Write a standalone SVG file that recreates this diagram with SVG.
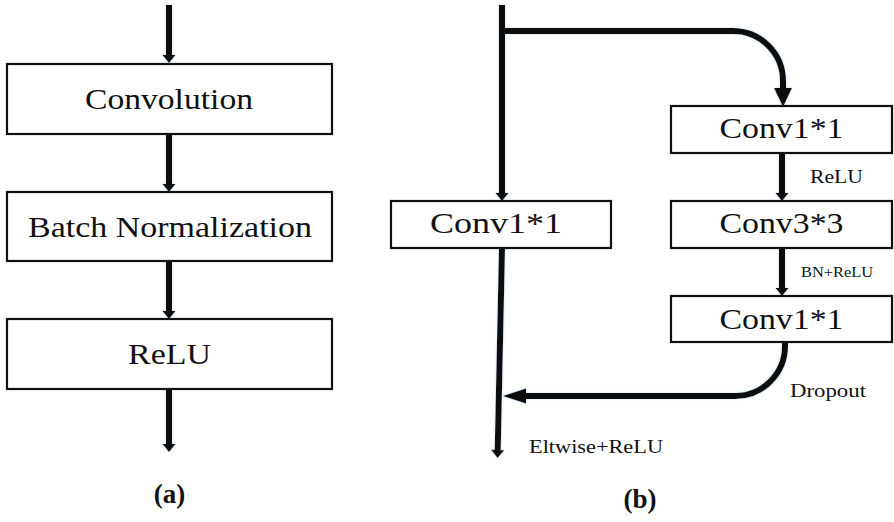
<svg xmlns="http://www.w3.org/2000/svg" width="894" height="522" viewBox="0 0 894 522">
<style>
.box{fill:#fff;stroke:#111;stroke-width:2.2}
text{font-family:"Liberation Serif",Tinos,"Times New Roman",Times,serif;fill:#111}
.big{font-size:30px;text-anchor:middle}
.cap{font-size:27px;text-anchor:middle;font-weight:bold}
.ln{fill:none;stroke:#111;stroke-width:6}
</style>
<defs>
<filter id="glow" filterUnits="userSpaceOnUse" x="0" y="0" width="894" height="522">
<feDropShadow dx="0" dy="0" stdDeviation="1.2" flood-color="#8fb8e0" flood-opacity="0.6"/>
</filter>
<marker id="sm" markerUnits="userSpaceOnUse" markerWidth="14" markerHeight="14" viewBox="0 -7 9 14" refX="0" refY="0" orient="auto">
<path d="M0,-6.5 L8,0 L0,6.5 z" fill="#111"/>
</marker>
<marker id="bg" markerUnits="userSpaceOnUse" markerWidth="20" markerHeight="20" viewBox="0 -9 19 18" refX="0" refY="0" orient="auto">
<path d="M0,-8.5 L18,0 L0,8.5 z" fill="#111"/>
</marker>
<marker id="rt" markerUnits="userSpaceOnUse" markerWidth="24" markerHeight="20" viewBox="0 -8 24 16" refX="0" refY="0" orient="auto">
<path d="M0,-7.5 L23,0 L0,7.5 z" fill="#111"/>
</marker>
</defs>

<g id="connectors" filter="url(#glow)">
<path class="ln" d="M169,5 V55" marker-end="url(#sm)"/>
<path class="ln" d="M169,134 V184" marker-end="url(#sm)"/>
<path class="ln" d="M169,261 V311" marker-end="url(#sm)"/>
<path class="ln" d="M169,389 V444" marker-end="url(#sm)"/>
<path class="ln" d="M502,5 V193" marker-end="url(#sm)"/>
<path class="ln" d="M502,31 H733 A50,50 0 0 1 783,81 V88" marker-end="url(#bg)"/>
<path class="ln" d="M782,153 V193" marker-end="url(#sm)"/>
<path class="ln" d="M782,248 V288" marker-end="url(#sm)"/>
<path class="ln" d="M502,248 L497.7,450" marker-end="url(#sm)"/>
<path class="ln" d="M785,342 V346 A50,50 0 0 1 735,396 H526" marker-end="url(#rt)"/>
</g>

<g id="convolution">
<rect class="box" x="7" y="64" width="325" height="70"/>
<text class="big" x="169" y="109" textLength="168" lengthAdjust="spacingAndGlyphs">Convolution</text>
</g>
<g id="batchnorm">
<rect class="box" x="7" y="192" width="325" height="69"/>
<text class="big" x="170" y="237" textLength="284" lengthAdjust="spacingAndGlyphs">Batch Normalization</text>
</g>
<g id="relu">
<rect class="box" x="7" y="319" width="325" height="70"/>
<text class="big" x="169.5" y="364" textLength="83" lengthAdjust="spacingAndGlyphs">ReLU</text>
</g>
<g id="label-a">
<text class="cap" x="169.5" y="503">(a)</text>
</g>

<g id="conv1x1-left">
<rect class="box" x="391" y="201" width="220" height="47"/>
<text class="big" x="496" y="233" textLength="132" lengthAdjust="spacingAndGlyphs">Conv1*1</text>
</g>
<g id="conv1x1-top">
<rect class="box" x="671" y="106" width="221" height="47"/>
<text class="big" x="781.5" y="138" textLength="124" lengthAdjust="spacingAndGlyphs">Conv1*1</text>
</g>
<g id="conv3x3">
<rect class="box" x="671" y="201" width="221" height="47"/>
<text class="big" x="781.5" y="233" textLength="124" lengthAdjust="spacingAndGlyphs">Conv3*3</text>
</g>
<g id="conv1x1-bottom">
<rect class="box" x="671" y="296" width="221" height="46"/>
<text class="big" x="781.5" y="329" textLength="124" lengthAdjust="spacingAndGlyphs">Conv1*1</text>
</g>

<g id="labels-b">
<text x="810" y="183" font-size="18" textLength="53" lengthAdjust="spacingAndGlyphs">ReLU</text>
<text x="801" y="277" font-size="14" textLength="72" lengthAdjust="spacingAndGlyphs">BN+ReLU</text>
<text x="790" y="397" font-size="19" textLength="76" lengthAdjust="spacingAndGlyphs">Dropout</text>
<text x="529" y="453" font-size="19" textLength="134" lengthAdjust="spacingAndGlyphs">Eltwise+ReLU</text>
<text class="cap" x="640" y="508">(b)</text>
</g>
</svg>
